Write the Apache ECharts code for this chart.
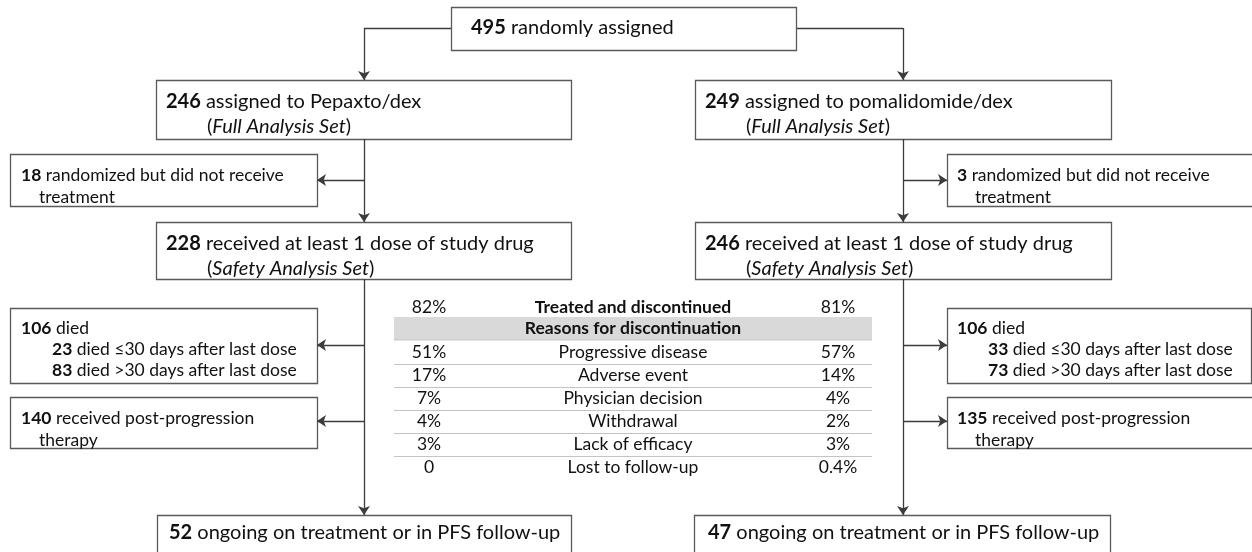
<!DOCTYPE html>
<html lang="en">

<head>
    <meta charset="UTF-8">
    <title>Patient disposition</title>
    <style>
        html, body { margin: 0; padding: 0; background: #fff; }
        #chart { width: 1252px; height: 552px; }
    </style>
</head>

<body>
    <div id='chart'></div>

    <script src="https://cdn.jsdelivr.net/npm/echarts@6/dist/echarts.min.js"></script>
    <script>
        // --- data ---
        const arms = ['Pepaxto/dex', 'pomalidomide/dex']
        const randomized = 495
        const assigned = [246, 249]
        const notTreated = [18, 3]
        const treated = [228, 246]
        const died = [106, 106]
        const diedWithin30 = [23, 33]
        const diedAfter30 = [83, 73]
        const postProgression = [140, 135]
        const ongoing = [52, 47]

        const discontinued = ['82%', '81%']
        const reasons = ['Progressive disease', 'Adverse event', 'Physician decision', 'Withdrawal', 'Lack of efficacy', 'Lost to follow-up']
        const reasonPctLeft = ['51%', '17%', '7%', '4%', '3%', '0']
        const reasonPctRight = ['57%', '14%', '4%', '2%', '3%', '0.4%']

        // --- box texts (rich text markup) ---
        const boxTexts = [
            ['{b|' + randomized + '} randomly assigned'],
            ['{b|' + assigned[0] + '} assigned to ' + arms[0], '({i|Full Analysis Set})'],
            ['{b|' + assigned[1] + '} assigned to ' + arms[1], '({i|Full Analysis Set})'],
            ['{b|' + notTreated[0] + '} randomized but did not receive', 'treatment'],
            ['{b|' + notTreated[1] + '} randomized but did not receive', 'treatment'],
            ['{b|' + treated[0] + '} received at least 1 dose of study drug', '({i|Safety Analysis Set})'],
            ['{b|' + treated[1] + '} received at least 1 dose of study drug', '({i|Safety Analysis Set})'],
            ['{b|' + died[0] + '} died', '{b|' + diedWithin30[0] + '} died ≤30 days after last dose', '{b|' + diedAfter30[0] + '} died >30 days after last dose'],
            ['{b|' + died[1] + '} died', '{b|' + diedWithin30[1] + '} died ≤30 days after last dose', '{b|' + diedAfter30[1] + '} died >30 days after last dose'],
            ['{b|' + postProgression[0] + '} received post-progression', 'therapy'],
            ['{b|' + postProgression[1] + '} received post-progression', 'therapy'],
            ['{b|' + ongoing[0] + '} ongoing on treatment or in PFS follow-up'],
            ['{b|' + ongoing[1] + '} ongoing on treatment or in PFS follow-up']
        ]

        // --- layout (axis units = pixels) ---
        // [x0, y0, x1, y1, padLeft, firstLineY, lineHeight, indent, fontSize]
        const boxLayout = [
            [451, 7, 796, 50, 20, 28, 0, 0, 20],
            [156, 80, 571, 139, 10, 102, 25, 41, 20],
            [695, 80, 1111, 139, 10, 102, 25, 41, 20],
            [10, 154, 317, 206, 11, 175, 22, 18, 17.5],
            [947, 154, 1256, 206, 10, 175, 22, 18, 17.5],
            [156, 222, 571, 279, 10, 244, 25, 41, 20],
            [695, 222, 1111, 279, 10, 244, 25, 41, 20],
            [10, 308, 317, 383, 11, 328, 21, 31, 17.5],
            [947, 308, 1251, 383, 10, 328, 21, 31, 17.5],
            [10, 397, 317, 448, 11, 418, 22, 18, 17.5],
            [947, 397, 1256, 448, 10, 418, 22, 18, 17.5],
            [157, 515, 571, 560, 12, 533, 0, 0, 20],
            [694, 515, 1110, 560, 14, 533, 0, 0, 20]
        ]

        // plain segments (no arrow head)
        const plainLinks = [
            [[451, 28], [364, 28]],
            [[796, 28], [903, 28]]
        ]
        // segments ending in an arrow head
        const arrowLinks = [
            [[364, 28], [364, 80]],
            [[903, 28], [903, 80]],
            [[364, 139], [364, 222]],
            [[364, 180], [317, 180]],
            [[903, 139], [903, 222]],
            [[903, 180], [947, 180]],
            [[364, 279], [364, 515]],
            [[364, 345], [317, 345]],
            [[364, 421], [317, 421]],
            [[903, 279], [903, 515]],
            [[903, 345], [947, 345]],
            [[903, 421], [947, 421]]
        ]

        const table = { x0: 394, x1: 872, colL: 429, colM: 633, colR: 838, titleY: 307, headY0: 317, headY1: 340, rowY0: 352, rowH: 23 }

        const FONT = 'Lato, "Liberation Sans", sans-serif'
        const INK = '#111'
        const TABLE_FS = 17.5

        const chartEl = document.querySelector('#chart')
        const myChart = echarts.init(chartEl)

        function richFor(size) {
            return {
                b: { fontWeight: 'bold', fontSize: size, fontFamily: FONT, fill: INK },
                i: { fontStyle: 'italic', fontSize: size, fontFamily: FONT, fill: INK }
            }
        }

        function renderBox(params, api) {
            const idx = params.dataIndex
            const L = boxLayout[idx]
            const p0 = api.coord([L[0], L[1]])
            const p1 = api.coord([L[2], L[3]])
            const children = [{
                type: 'rect',
                shape: { x: Math.round(p0[0]) + 0.5, y: Math.round(p0[1]) + 0.5, width: Math.round(p1[0] - p0[0]), height: Math.round(p1[1] - p0[1]) },
                style: { fill: '#fff', stroke: '#5a5a5a', lineWidth: 1.3 }
            }]
            boxTexts[idx].forEach(function (line, k) {
                const pt = api.coord([L[0] + L[4] + (k > 0 ? L[7] : 0), L[5] + k * L[6]])
                children.push({
                    type: 'text',
                    style: {
                        x: pt[0], y: pt[1], text: line,
                        fontSize: L[8], fontFamily: FONT, fill: INK,
                        verticalAlign: 'middle', align: 'left',
                        rich: richFor(L[8])
                    }
                })
            })
            return { type: 'group', children: children }
        }

        function renderRow(params, api) {
            const i = params.dataIndex
            const cy = table.rowY0 + i * table.rowH
            const children = []
            if (i < reasons.length - 1) {
                const a = api.coord([table.x0, cy + table.rowH / 2])
                const b = api.coord([table.x1, cy + table.rowH / 2])
                children.push({ type: 'line', shape: { x1: a[0], y1: Math.round(a[1]) + 0.5, x2: b[0], y2: Math.round(a[1]) + 0.5 }, style: { stroke: '#c4c4c4', lineWidth: 1.2 } })
            }
            const cols = [[table.colL, reasonPctLeft[i]], [table.colM, reasons[i]], [table.colR, reasonPctRight[i]]]
            cols.forEach(function (c) {
                const p = api.coord([c[0], cy])
                children.push({ type: 'text', style: { x: p[0], y: p[1], text: c[1], align: 'center', verticalAlign: 'middle', fontSize: TABLE_FS, fontFamily: FONT, fill: INK } })
            })
            return { type: 'group', children: children }
        }

        function renderHeader(params, api) {
            const a = api.coord([table.x0, table.headY0])
            const b = api.coord([table.x1, table.headY1])
            const mid = api.coord([table.colM, (table.headY0 + table.headY1) / 2])
            const t = api.coord([table.colM, table.titleY])
            const l = api.coord([table.colL, table.titleY])
            const r = api.coord([table.colR, table.titleY])
            const txt = { align: 'center', verticalAlign: 'middle', fontSize: TABLE_FS, fontFamily: FONT, fill: INK }
            return {
                type: 'group', children: [
                    { type: 'rect', shape: { x: a[0], y: a[1], width: b[0] - a[0], height: b[1] - a[1] }, style: { fill: '#d9d9d9' } },
                    { type: 'line', shape: { x1: a[0], y1: b[1], x2: b[0], y2: b[1] }, style: { stroke: '#c4c4c4', lineWidth: 1 } },
                    { type: 'text', style: Object.assign({ x: mid[0], y: mid[1], text: 'Reasons for discontinuation', fontWeight: 'bold' }, txt) },
                    { type: 'text', style: Object.assign({ x: t[0], y: t[1], text: 'Treated and discontinued', fontWeight: 'bold' }, txt) },
                    { type: 'text', style: Object.assign({ x: l[0], y: l[1], text: discontinued[0] }, txt) },
                    { type: 'text', style: Object.assign({ x: r[0], y: r[1], text: discontinued[1] }, txt) }
                ]
            }
        }

        const linkStyle = { color: '#3c3c3c', width: 1.3, opacity: 1, curveness: 0 }

        const option = {
            animation: false,
            grid: { left: 0, right: 0, top: 0, bottom: 0 },
            xAxis: { type: 'value', min: 0, max: 1252, show: false },
            yAxis: { type: 'value', min: 0, max: 552, inverse: true, show: false },
            series: [
                {
                    type: 'lines',
                    coordinateSystem: 'cartesian2d',
                    symbol: 'none',
                    lineStyle: linkStyle,
                    data: plainLinks.map(function (c) { return { coords: c } }),
                    z: 1
                },
                {
                    type: 'lines',
                    coordinateSystem: 'cartesian2d',
                    symbol: ['none', 'arrow'],
                    symbolSize: 9,
                    lineStyle: linkStyle,
                    data: arrowLinks.map(function (c) { return { coords: c } }),
                    z: 3
                },
                {
                    type: 'custom',
                    renderItem: renderBox,
                    data: boxLayout.map(function (b) { return [b[0], b[1]] }),
                    clip: false,
                    z: 2
                },
                {
                    type: 'custom',
                    renderItem: renderHeader,
                    data: [[table.colM, table.titleY]],
                    z: 2
                },
                {
                    type: 'custom',
                    renderItem: renderRow,
                    data: reasons.map(function (r, i) { return [table.colM, table.rowY0 + i * table.rowH] }),
                    z: 2
                }
            ]
        }

        myChart.setOption(option)
    </script>
</body>

</html>
